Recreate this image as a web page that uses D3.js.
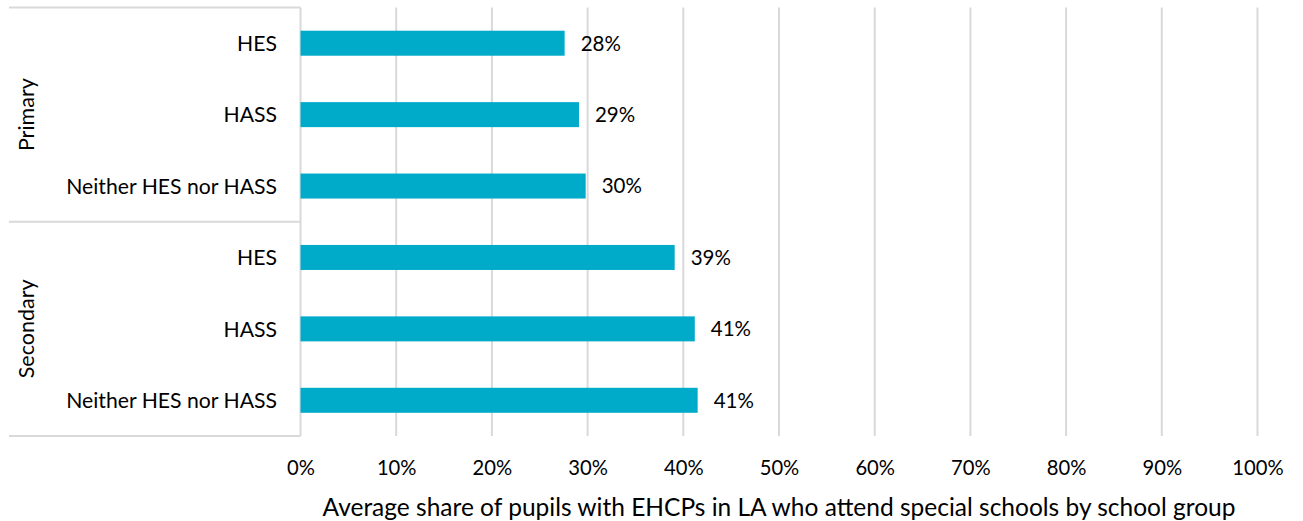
<!DOCTYPE html>
<html>
<head>
<meta charset="utf-8">
<script src="https://cdn.jsdelivr.net/npm/d3@7"></script>
<style>
  html, body { margin: 0; padding: 0; background: #ffffff; }
  svg { display: block; font-family: Lato, "Open Sans", sans-serif; }
</style>
</head>
<body>
<svg id="chart" width="1303" height="521"></svg>
<script>
// ---- Data ----
const groups = ["Primary", "Secondary"];
const categories = ["HES", "HASS", "Neither HES nor HASS"];
const groupOfRow = ["Primary", "Primary", "Primary", "Secondary", "Secondary", "Secondary"];
const categoryOfRow = ["HES", "HASS", "Neither HES nor HASS", "HES", "HASS", "Neither HES nor HASS"];
const values = [0.276, 0.291, 0.298, 0.391, 0.412, 0.415];
const valueLabels = ["28%", "29%", "30%", "39%", "41%", "41%"];
const tickValues = [0, 0.1, 0.2, 0.3, 0.4, 0.5, 0.6, 0.7, 0.8, 0.9, 1.0];
const xAxisTitle = "Average share of pupils with EHCPs in LA who attend special schools by school group";

// ---- Layout ----
const svg = d3.select("#chart");
const plot = { left: 300.5, right: 1257.5, top: 7.5, bottom: 436 };
const boxLeft = 9;
const barColor = "#00ABCA";
const gridColor = "#D9D9D9";
const textColor = "#000000";

const rowIds = d3.range(values.length);
const x = d3.scaleLinear().domain([0, 1]).range([plot.left, plot.right]);
const y = d3.scaleBand().domain(rowIds).range([plot.top, plot.bottom]).paddingInner(0.65).paddingOuter(0.325);
const yGroup = d3.scaleBand().domain(groups).range([plot.top, plot.bottom]);

// Gridlines
svg.append("g")
  .selectAll("line")
  .data(tickValues)
  .join("line")
  .attr("x1", d => x(d)).attr("x2", d => x(d))
  .attr("y1", plot.top).attr("y2", plot.bottom)
  .attr("stroke", gridColor).attr("stroke-width", 2);

// Group box lines
const boxYs = [plot.top, yGroup("Secondary"), plot.bottom];
svg.append("g")
  .selectAll("line")
  .data(boxYs)
  .join("line")
  .attr("x1", boxLeft).attr("x2", x(0))
  .attr("y1", d => d).attr("y2", d => d)
  .attr("stroke", gridColor).attr("stroke-width", 2);

// Bars
svg.append("g")
  .selectAll("rect")
  .data(rowIds)
  .join("rect")
  .attr("x", x(0))
  .attr("y", i => y(i))
  .attr("width", i => x(values[i]) - x(0))
  .attr("height", y.bandwidth())
  .attr("fill", barColor);

// Value labels
svg.append("g")
  .selectAll("text")
  .data(rowIds)
  .join("text")
  .attr("x", i => x(values[i]) + 16)
  .attr("y", i => y(i) + y.bandwidth() / 2)
  .attr("dy", "0.36em")
  .attr("font-size", 20.5)
  .attr("fill", textColor)
  .text(i => valueLabels[i]);

// Category labels
svg.append("g")
  .selectAll("text")
  .data(rowIds)
  .join("text")
  .attr("x", 277)
  .attr("y", i => y(i) + y.bandwidth() / 2)
  .attr("dy", "0.36em")
  .attr("text-anchor", "end")
  .attr("font-size", 21.2)
  .attr("fill", textColor)
  .text(i => categoryOfRow[i]);

// Group labels (rotated)
svg.append("g")
  .selectAll("text")
  .data(groups)
  .join("text")
  .attr("transform", g => `translate(34, ${yGroup(g) + yGroup.bandwidth() / 2}) rotate(-90)`)
  .attr("text-anchor", "middle")
  .attr("font-size", 21.5)
  .attr("fill", textColor)
  .text(g => g);

// X axis (labels only)
const xAxis = d3.axisBottom(x)
  .tickValues(tickValues)
  .tickFormat(d3.format(".0%"))
  .tickSize(0)
  .tickPadding(0);
const axisG = svg.append("g")
  .attr("transform", `translate(0, ${plot.bottom})`)
  .call(xAxis);
axisG.select(".domain").remove();
axisG.selectAll("text")
  .attr("y", 32)
  .attr("dy", "0.36em")
  .attr("font-family", "Lato, 'Open Sans', sans-serif")
  .attr("font-size", 20.2)
  .attr("fill", textColor);

// Axis title
svg.append("text")
  .attr("x", (plot.left + plot.right) / 2)
  .attr("y", 507)
  .attr("dy", "0.36em")
  .attr("text-anchor", "middle")
  .attr("font-size", 24.5)
  .attr("fill", textColor)
  .text(xAxisTitle);
</script>
</body>
</html>
